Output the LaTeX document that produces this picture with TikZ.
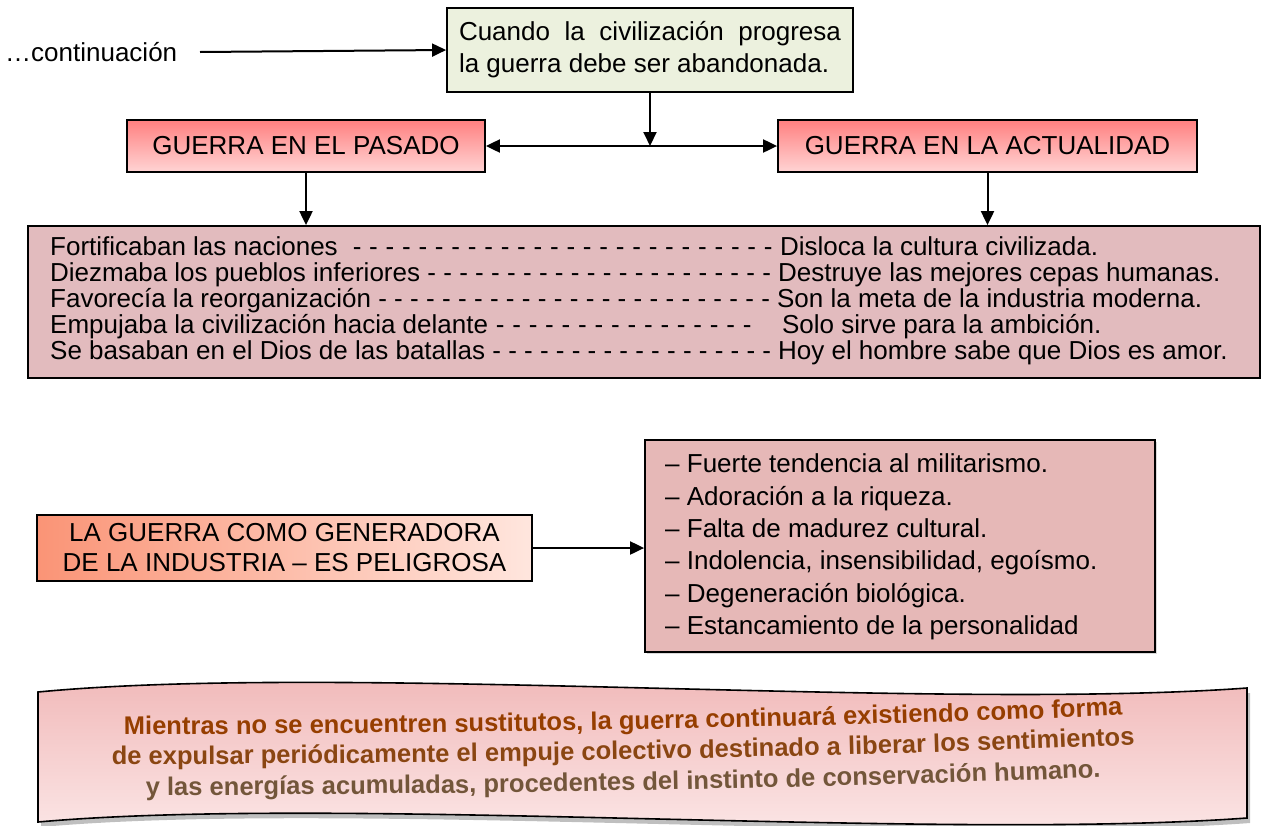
\documentclass[tikz,border=0pt]{standalone}
\usepackage{fontspec}
\setmainfont{Liberation Sans}
\usetikzlibrary{arrows.meta,shadows,decorations.text}
\definecolor{topfill}{RGB}{236,241,222}
\definecolor{hdtop}{RGB}{255,128,128}
\definecolor{hdbot}{RGB}{255,212,212}
\definecolor{bigfill}{RGB}{226,187,190}
\definecolor{listfill}{RGB}{230,184,183}
\definecolor{gleft}{RGB}{250,148,118}
\definecolor{gright}{RGB}{255,230,222}
\definecolor{bantop}{RGB}{240,182,182}
\definecolor{banbot}{RGB}{252,232,232}
\definecolor{txtA}{RGB}{150,62,0}
\definecolor{txtB}{RGB}{138,70,18}
\definecolor{txtC}{RGB}{115,86,58}
\newcommand\banfont{\fontsize{25.5}{26}\selectfont\bfseries}
\tikzset{
  boxline/.style={draw=black, line width=1.8pt},
  hdbox/.style={boxline, top color=hdtop, bottom color=hdbot, minimum height=52pt, inner sep=0pt, font=\fontsize{26}{28}\selectfont},
  conn/.style={line width=2pt, -{Triangle[length=14pt,width=13pt]}},
  biconn/.style={line width=2pt, {Triangle[length=14pt,width=13pt]}-{Triangle[length=14pt,width=13pt]}},
  rowtxt/.style={anchor=base west, inner sep=0pt, font=\fontsize{26}{26}\selectfont},
  banline/.style={decorate, decoration={text along path, text align=center, text={#1}}}
}
\newcommand\dashrow[6]{%
  \node[rowtxt] (#1) at (50,#2) {\makebox[#3pt][l]{#4\xleaders\hbox{\ -}\hfill}\hspace{#5pt}#6};}
\begin{document}
\begin{tikzpicture}[x=1pt,y=-1pt]
\useasboundingbox (0,0) rectangle (1265,825);
% top
\node[anchor=west, inner sep=0pt, font=\fontsize{26}{28}\selectfont] (cont) at (5,52) {…continuación};
\coordinate (cs) at (200,52);
\node[boxline, fill=topfill, minimum width=406pt, minimum height=84pt, inner sep=0pt, align=left,
  font=\fontsize{26}{32}\selectfont] (top) at (650,50)
  {\makebox[382pt][s]{Cuando la civilización progresa}\\la guerra debe ser abandonada.};
\draw[conn] (cs) -- (top.west);
% headers
\node[hdbox, minimum width=358pt] (pas) at (306,146) {GUERRA EN EL PASADO};
\node[hdbox, minimum width=419pt] (act) at (987.5,146) {GUERRA EN LA ACTUALIDAD};
\coordinate (j) at (top.south |- pas.east);
\draw[biconn] (pas.east) -- (act.west);
\draw[conn] (top.south) -- (j);
% big box
\node[boxline, fill=bigfill, minimum width=1232pt, minimum height=152pt, inner sep=0pt] (big) at (644,302) {};
\draw[conn] (pas.south) -- (pas.south |- big.north);
\draw[conn] (act.south) -- (act.south |- big.north);
\dashrow{r1}{255}{723}{Fortificaban las naciones\ }{7}{Disloca la cultura civilizada.}
\dashrow{r2}{281}{721}{Diezmaba los pueblos inferiores}{7}{Destruye las mejores cepas humanas.}
\dashrow{r3}{307}{720}{Favorecía la reorganización}{7}{Son la meta de la industria moderna.}
\dashrow{r4}{333}{702}{Empujaba la civilización hacia delante}{30}{Solo sirve para la ambición.}
\dashrow{r5}{359}{721}{Se basaban en el Dios de las batallas}{7}{Hoy el hombre sabe que Dios es amor.}
% middle
\node[boxline, left color=gleft, right color=gright, minimum width=495pt, minimum height=66pt, inner sep=0pt,
  align=center, font=\fontsize{26}{30}\selectfont] (gen) at (284.5,548)
  {LA GUERRA COMO GENERADORA\\DE LA INDUSTRIA – ES PELIGROSA};
\node[boxline, fill=listfill, minimum width=510pt, minimum height=212pt, inner sep=0pt,
  drop shadow={shadow xshift=2pt, shadow yshift=-2pt, opacity=0.3}] (list) at (900,546) {};
\draw[conn] (gen.east) -- (gen.east -| list.west);
\node[anchor=west, inner sep=0pt, align=left, font=\fontsize{26}{32.4}\selectfont] (items) at (665,547)
  {– Fuerte tendencia al militarismo.\\
   – Adoración a la riqueza.\\
   – Falta de madurez cultural.\\
   – Indolencia, insensibilidad, egoísmo.\\
   – Degeneración biológica.\\
   – Estancamiento de la personalidad};
% banner
\fill[black, opacity=0.25] (41,697) .. controls (340,668) and (930,716) .. (1250,693)
  -- (1250,823) .. controls (930,846) and (340,800) .. (41,827) -- cycle;
\path[boxline, line width=1.6pt, top color=bantop, bottom color=banbot]
  (38,692) .. controls (340,663) and (930,711) .. (1247,688)
  -- (1247,818) .. controls (930,841) and (340,795) .. (38,822) -- cycle;
\path[banline={|\banfont\color{txtA}|Mientras no se encuentren sustitutos, la guerra continuará existiendo como forma}]
  (25,735) .. controls (380,734) and (830,730) .. (1220,711);
\path[banline={|\banfont\color{txtB}|de expulsar periódicamente el empuje colectivo destinado a liberar los sentimientos}]
  (25,765) .. controls (380,764) and (830,760) .. (1220,741);
\path[banline={|\banfont\color{txtC}|y las energías acumuladas, procedentes del instinto de conservación humano.}]
  (25,796) .. controls (380,795) and (830,791) .. (1220,772);
\end{tikzpicture}
\end{document}
